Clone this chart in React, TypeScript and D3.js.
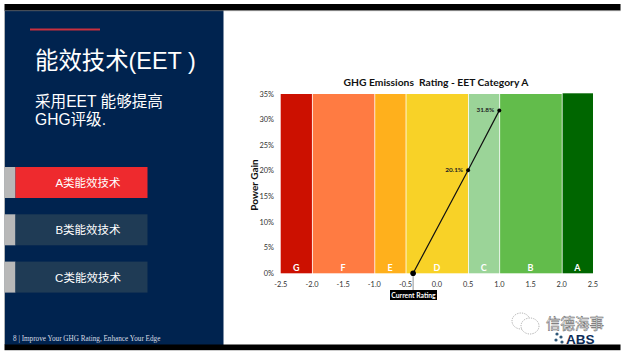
import React from "react";
import * as d3 from "d3";

const bandRatings = ["G", "F", "E", "D", "C", "B", "A"];
const bandStarts = [-2.5, -2.0, -1.0, -0.5, 0.5, 1.0, 2.0];
const bandEnds = [-2.0, -1.0, -0.5, 0.5, 1.0, 2.0, 2.5];
const bandColors = ["#cc1000", "#ff7b42", "#ffb01c", "#f8d227", "#9bd498", "#62bc4b", "#006600"];
const xTicks = [-2.5, -2.0, -1.5, -1.0, -0.5, 0.0, 0.5, 1.0, 1.5, 2.0, 2.5];
const yTicks = [0, 5, 10, 15, 20, 25, 30, 35];
const ratingX = [-0.38, 0.5, 1.0];
const powerGain = [0, 20.1, 31.8];
const pointLabels = ["", "20.1%", "31.8%"];
const menuLabels = ["A类能效技术", "B类能效技术", "C类能效技术"];
const menuColors = ["#ee2a2e", "#1f3b55", "#1f3b55"];

const cjk = "'Liberation Sans','Noto Sans CJK SC',sans-serif";
const chartFont = "Lato,'Noto Sans',sans-serif";

export default function App() {
  const x = d3.scaleLinear().domain([-2.5, 2.5]).range([280.7, 593]);
  const y = d3.scaleLinear().domain([0, 35]).range([273.3, 94]);
  const line = d3.line<number>().x((d) => x(d)).y((_, i) => y(powerGain[i]));
  return (
    <svg
      width={624}
      height={352}
      viewBox="0 0 624 352"
      style={{ position: "fixed", left: 0, top: 0, background: "#fff" }}
    >
      <rect x={4.5} y={10} width={219} height={335} fill="#00234f" />
      <rect x={4} y={10} width={0.8} height={335} fill="#bbb" />
      <rect x={4.5} y={4} width={616} height={6.5} fill="#000" />
      <rect x={4.5} y={10.5} width={616} height={0.6} fill="#888" />
      <rect x={4.5} y={344.5} width={616} height={5.7} fill="#000" />
      <rect x={30} y={28.5} width={70} height={2} fill="#c8303f" />

      <text x={35} y={68.5} fontFamily={cjk} fontSize={23.4} fill="#fff">能效技术(EET )</text>
      <text x={35} y={106.5} fontFamily={cjk} fontSize={15.6} fill="#fff">采用EET 能够提高</text>
      <text x={35} y={124.5} fontFamily={cjk} fontSize={15.6} fill="#fff">GHG评级.</text>

      {menuLabels.map((m, i) => {
        const top = 167 + i * 47.3;
        return (
          <g key={m}>
            <rect x={4.5} y={top} width={11} height={31} fill="#b8b8b8" />
            <rect x={15.5} y={top} width={132} height={31} fill={menuColors[i]} />
            <text x={88} y={top + 20} textAnchor="middle" fontFamily={cjk} fontSize={11.5} fill="#fff">{m}</text>
          </g>
        );
      })}
      <text x={13} y={340.5} fontFamily="'Liberation Serif',serif" fontSize={7.2} fill="#d8dde4">
        8 | Improve Your GHG Rating, Enhance Your Edge
      </text>

      <text x={436} y={85.5} textAnchor="middle" fontFamily={chartFont} fontWeight={700} fontSize={10.3} fill="#111" xmlSpace="preserve">
        GHG Emissions  Rating - EET Category A
      </text>

      {bandRatings.map((r, i) => {
        const x0 = x(bandStarts[i]);
        const x1 = x(bandEnds[i]);
        const top = r === "A" ? 93.3 : y(35);
        return (
          <g key={r}>
            <rect x={x0 + (i ? 0.8 : 0)} y={top} width={x1 - x0 - (i ? 0.8 : 0)} height={y(0) - top} fill={bandColors[i]} />
            <text x={(x0 + x1) / 2} y={271} textAnchor="middle" fontFamily={chartFont} fontWeight={700} fontSize={9} fill="#fff">{r}</text>
          </g>
        );
      })}

      {yTicks.map((t) => (
        <text key={t} x={274} y={y(t) + 2.5} textAnchor="end" fontFamily={chartFont} fontSize={7.4} fill="#333">{t}%</text>
      ))}
      {xTicks.map((t) => (
        <text key={t} x={x(t)} y={286.5} textAnchor="middle" fontFamily={chartFont} fontSize={7.4} fill="#333">{t.toFixed(1)}</text>
      ))}
      <text transform="translate(257.5,185) rotate(-90)" textAnchor="middle" fontFamily={chartFont} fontWeight={700} fontSize={10} fill="#111">Power Gain</text>

      <line x1={x(ratingX[0])} x2={x(ratingX[0])} y1={y(0)} y2={291} stroke="#777" strokeWidth={0.8} />
      <path d={line(ratingX) ?? ""} fill="none" stroke="#111" strokeWidth={1.2} />
      {ratingX.map((v, i) => (
        <circle key={v} cx={x(v)} cy={y(powerGain[i])} r={i === 0 ? 2.8 : 2} fill="#000" />
      ))}
      {pointLabels.map((l, i) => l && (
        <text key={l} x={x(ratingX[i]) - 5} y={y(powerGain[i]) + 2} textAnchor="end" fontFamily={chartFont} fontWeight={700} fontSize={6.4} fill="#222">{l}</text>
      ))}
      <rect x={390} y={290} width={47} height={10} fill="#000" />
      <text x={413.5} y={297.5} textAnchor="middle" fontFamily={chartFont} fontWeight={700} fontSize={6.8} fill="#fff">Current Rating</text>

      <g fill="#fff" stroke="#888" strokeWidth={0.7} strokeDasharray="1.2 1.2">
        <ellipse cx={521} cy={321} rx={9} ry={8} />
        <ellipse cx={530} cy={326} rx={9} ry={8} />
      </g>
      <text x={546} y={328.5} fontFamily="'Noto Sans CJK SC',sans-serif" fontSize={14.5} fill="#fff" stroke="#666" strokeWidth={0.5}>信德海事</text>
      <g fill="#2f5878">
        <circle cx={557} cy={334} r={1.6} />
        <circle cx={561} cy={337} r={1.6} />
        <circle cx={556} cy={340} r={1.6} />
        <circle cx={562} cy={342} r={1.6} />
      </g>
      <text x={566} y={343.5} fontFamily="'Liberation Sans',sans-serif" fontWeight={700} fontSize={13.5} fill="#0d2b57">ABS</text>
    </svg>
  );
}
